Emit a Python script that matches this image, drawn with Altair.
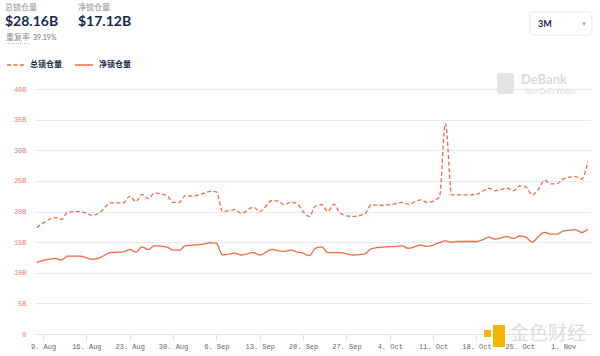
import altair as alt
import pandas as pd

# ---- data ----
dates = [
    "2021-08-08", "2021-08-09", "2021-08-11", "2021-08-12", "2021-08-13", "2021-08-15",
    "2021-08-17", "2021-08-18", "2021-08-20", "2021-08-22", "2021-08-23", "2021-08-24",
    "2021-08-25", "2021-08-26", "2021-08-27", "2021-08-29", "2021-08-30", "2021-08-31",
    "2021-09-01", "2021-09-02", "2021-09-04", "2021-09-05", "2021-09-06", "2021-09-07",
    "2021-09-09", "2021-09-10", "2021-09-12", "2021-09-13", "2021-09-15", "2021-09-16",
    "2021-09-17", "2021-09-18", "2021-09-19", "2021-09-20", "2021-09-21", "2021-09-22",
    "2021-09-23", "2021-09-24", "2021-09-25", "2021-09-26", "2021-09-28", "2021-09-30",
    "2021-10-01", "2021-10-03", "2021-10-05", "2021-10-06", "2021-10-07", "2021-10-09",
    "2021-10-10", "2021-10-12", "2021-10-13", "2021-10-14", "2021-10-15", "2021-10-17",
    "2021-10-18", "2021-10-19", "2021-10-20", "2021-10-21", "2021-10-23", "2021-10-24",
    "2021-10-25", "2021-10-26", "2021-10-27", "2021-10-28", "2021-10-29", "2021-10-30",
    "2021-10-31", "2021-11-01", "2021-11-03", "2021-11-04", "2021-11-05",
]
total_tvl = [
    17.4, 18.1, 19.0, 18.7, 19.9, 20.0,
    19.4, 19.7, 21.4, 21.4, 22.5, 21.6,
    22.8, 22.1, 23.0, 22.6, 21.5, 21.5,
    22.6, 22.5, 23.0, 23.3, 23.2, 20.0,
    20.3, 19.7, 20.7, 20.0, 21.8, 21.7,
    21.1, 21.5, 21.3, 20.0, 19.2, 20.9,
    21.1, 20.0, 21.2, 19.7, 19.2, 19.6,
    21.1, 21.0, 21.3, 21.5, 21.2, 21.9,
    21.5, 22.3, 34.4, 22.7, 22.7, 22.7,
    22.8, 23.3, 23.8, 23.4, 23.8, 23.4,
    24.2, 24.0, 22.7, 23.6, 25.1, 24.5,
    24.5, 25.3, 25.7, 25.3, 28.16,
]
net_tvl = [
    11.7, 12.0, 12.3, 12.1, 12.7, 12.7,
    12.2, 12.4, 13.3, 13.4, 13.8, 13.4,
    14.2, 13.8, 14.4, 14.2, 13.7, 13.7,
    14.4, 14.5, 14.7, 14.9, 14.8, 12.9,
    13.2, 12.9, 13.3, 12.9, 13.8, 13.6,
    13.5, 13.7, 13.4, 13.2, 12.8, 14.0,
    14.2, 13.3, 13.3, 13.3, 12.9, 13.1,
    13.9, 14.2, 14.3, 14.4, 14.0, 14.5,
    14.3, 14.9, 15.2, 15.0, 15.1, 15.1,
    15.1, 15.4, 15.8, 15.5, 15.9, 15.6,
    16.0, 15.8, 15.0, 15.9, 16.6, 16.3,
    16.3, 16.8, 17.0, 16.6, 17.12,
]
series_names = ["总锁仓量", "净锁仓量"]
y_ticks = [0, 5, 10, 15, 20, 25, 30, 35, 40]
x_tick_dates = [(8, 9), (8, 16), (8, 23), (8, 30), (9, 6), (9, 13), (9, 20),
                (9, 27), (10, 4), (10, 11), (10, 18), (10, 25), (11, 1)]

df = pd.DataFrame({
    "date": dates * 2,
    "value": total_tvl + net_tvl,
    "series": [series_names[0]] * len(dates) + [series_names[1]] * len(dates),
})

LINE = "#ee6a47"
CJK = "Noto Sans CJK SC"
W, H = 556, 245
L, T = 35, 89

lines = alt.Chart(df).mark_line(strokeWidth=1.3, color=LINE, interpolate="monotone").encode(
    x=alt.X("date:T",
            scale=alt.Scale(type="utc",
                            domain=[alt.DateTime(year=2021, month=8, date=7, hours=17, utc=True),
                                    alt.DateTime(year=2021, month=11, date=5, hours=12, utc=True)]),
            axis=alt.Axis(values=[alt.DateTime(year=2021, month=m, date=d, utc=True) for m, d in x_tick_dates],
                          labelExpr="utcFormat(datum.value, '%-d. %b')", title=None, grid=False,
                          labelFont="Liberation Mono", labelFontSize=7, labelColor="#666666",
                          tickColor="#d8dde6", tickSize=6, domainColor="#e3e6ec",
                          labelPadding=2, labelFlush=False)),
    y=alt.Y("value:Q",
            scale=alt.Scale(domain=[0, 40], nice=False),
            axis=alt.Axis(values=y_ticks, title=None,
                          labelExpr="datum.value == 0 ? '0' : datum.value + 'B'",
                          labelFont="Liberation Mono", labelFontSize=7, labelColor="#e8806e",
                          ticks=False, domain=False, labelPadding=9,
                          gridColor="#e8eaef", gridWidth=1)),
    strokeDash=alt.StrokeDash("series:N",
                              scale=alt.Scale(domain=series_names, range=[[4, 2.5], [1, 0]]),
                              legend=None),
    detail="series:N",
)

one = pd.DataFrame({"k": [0]})


def txt(s, px, py, size, color, weight="normal", font=CJK, align="left", baseline="middle"):
    return alt.Chart(one).mark_text(text=s, fontSize=size, color=color, fontWeight=weight,
                                    font=font, align=align, baseline=baseline).encode(
        x=alt.value(px - L), y=alt.value(py - T))


def rule(x1, x2, y, dash, color=LINE, width=1.3):
    return alt.Chart(one).mark_rule(color=color, strokeWidth=width, strokeDash=dash).encode(
        x=alt.value(x1 - L), x2=alt.value(x2 - L), y=alt.value(y - T))


header = [
    txt("总锁仓量", 5, 8, 8, "#8a8f99"),
    txt("$28.16B", 5, 22, 14, "#192945", "bold", font="Lato"),
    txt("净锁仓量", 78, 8, 8, "#8a8f99"),
    txt("$17.12B", 78, 22, 14, "#192945", "bold", font="Lato"),
    txt("重复率", 6, 38, 8, "#8a8f99"),
    txt("39.19%", 33, 38, 7, "#6b7280", font="Lato"),
    rule(6, 29, 43.5, [1, 1], color="#b0b5bd", width=0.8),
]

dropdown_box = alt.Chart(one).mark_rect(fill="white", stroke="#e6e8ec", strokeWidth=1,
                                        cornerRadius=3).encode(
    x=alt.value(530 - L), x2=alt.value(592 - L), y=alt.value(12 - T), y2=alt.value(35 - T))
dropdown = [dropdown_box,
            txt("3M", 538, 24, 9, "#192945", "bold", font="Lato"),
            txt("▾", 584, 24, 7, "#9aa0a8", font="DejaVu Sans", align="center")]

legend = [
    rule(7, 25, 65, [4, 2.5]),
    txt("总锁仓量", 30, 65, 8, "#192945", "bold"),
    rule(75, 93, 65, [1, 0]),
    txt("净锁仓量", 99, 65, 8, "#192945", "bold"),
]

wm_logo = alt.Chart(one).mark_rect(fill="#e4e4e4", cornerRadius=3).encode(
    x=alt.value(497 - L), x2=alt.value(514 - L), y=alt.value(73 - T), y2=alt.value(94 - T))
watermark = [
    wm_logo,
    txt("DeBank", 521, 80, 13, "#d9d9d9", "bold", font="Lato"),
    txt("Your DeFi Wallet", 524, 92, 7, "#dadada", font="Lato"),
]

jinse_box = alt.Chart(one).mark_rect(fill="#f4b400").encode(
    x=alt.value(493 - L), x2=alt.value(505 - L), y=alt.value(325 - T), y2=alt.value(347 - T))
jinse_dot = alt.Chart(one).mark_rect(fill="#f4b400").encode(
    x=alt.value(484 - L), x2=alt.value(491 - L), y=alt.value(330 - T), y2=alt.value(337 - T))
jinse = [jinse_box, jinse_dot,
         txt("金色财经", 510, 334, 19, "#dcdcdc", font=CJK)]

chart = alt.layer(lines, *header, *dropdown, *legend, *watermark, *jinse).properties(
    width=W, height=H,
    background="white",
    autosize=alt.AutoSizeParams(type="none"),
    padding={"left": L, "top": T, "right": 600 - L - W, "bottom": 356 - T - H},
).configure_view(stroke=None)

chart.save("out.html", embed_options={"renderer": "svg", "actions": False})
